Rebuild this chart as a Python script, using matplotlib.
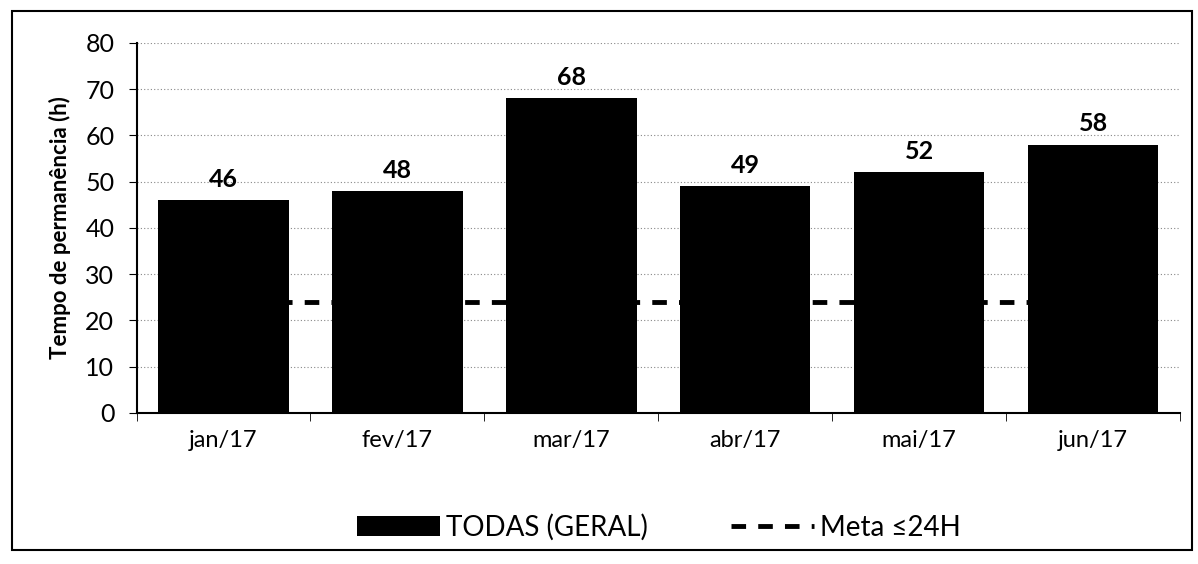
import matplotlib
matplotlib.use("Agg")
import matplotlib.pyplot as plt
from matplotlib.patches import Rectangle
import numpy as np

categories = ["jan/17", "fev/17", "mar/17", "abr/17", "mai/17", "jun/17"]
values = [46, 48, 68, 49, 52, 58]
meta = [24, 24, 24, 24, 24, 24]
yticks = [0, 10, 20, 30, 40, 50, 60, 70, 80]

plt.rcParams['font.family'] = ['Lato', 'DejaVu Sans']

fig = plt.figure(figsize=(11.98, 5.64), dpi=100)
ax = fig.add_axes([0.114, 0.268, 0.871, 0.656])

x = np.arange(len(categories))
ax.plot(x, meta, color='black', linestyle=(0, (3, 2.5)), linewidth=3.5, zorder=2, label='Meta ≤24H')
bars = ax.bar(x, values, width=0.75, color='black', zorder=3, label='TODAS (GERAL)')
for xi, v in zip(x, values):
    ax.text(xi, v + 2, str(v), ha='center', va='bottom', fontsize=18, fontweight='bold')

ax.set_xlim(-0.5, len(categories) - 0.5)
ax.set_ylim(0, 80)
ax.set_yticks(yticks)
ax.set_yticklabels([str(t) for t in yticks], fontsize=18)
ax.set_xticks(x)
ax.set_xticklabels(categories, fontsize=17)
ax.set_xticks(np.arange(-0.5, len(categories)), minor=True)
ax.tick_params(axis='x', which='major', length=0, pad=12)
ax.tick_params(axis='x', which='minor', length=6, direction='out', color='black')
ax.tick_params(axis='y', length=6, direction='out', pad=10)
ax.yaxis.grid(True, linestyle=(0, (1, 2)), color='#888888', linewidth=0.8, zorder=0)
ax.set_axisbelow(True)
for s in ['top', 'right']:
    ax.spines[s].set_visible(False)
ax.spines['left'].set_linewidth(1.5)
ax.spines['bottom'].set_linewidth(1.5)
ax.set_ylabel('Tempo de permanência (h)', fontsize=16, fontweight='bold', labelpad=10)

handles, labels = ax.get_legend_handles_labels()
leg = fig.legend([handles[1], handles[0]], [labels[1], labels[0]], loc='center',
                 bbox_to_anchor=(0.55, 0.065), ncol=2, frameon=False, fontsize=20,
                 handlelength=3.0, columnspacing=3.0, handletextpad=0.2)

fig.patches.append(Rectangle((0.01, 0.025), 0.985, 0.955, transform=fig.transFigure,
                             fill=False, edgecolor='black', linewidth=1.5))

fig.savefig('out.png', dpi=100)
